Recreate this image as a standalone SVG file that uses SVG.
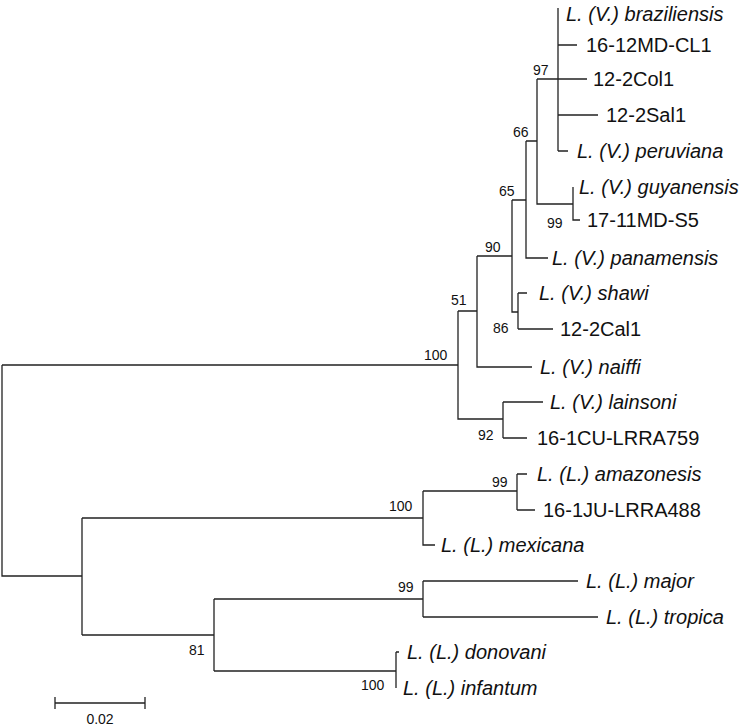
<svg xmlns="http://www.w3.org/2000/svg" width="740" height="727" viewBox="0 0 740 727">
<style>
.t{font-family:"Liberation Sans",Arial,sans-serif;font-size:20px;fill:#111}
.i{font-style:italic}
.b{font-family:"Liberation Sans",Arial,sans-serif;font-size:14px;fill:#111}
.e{stroke:#222;stroke-width:1.3;fill:none}
</style>
<rect width="740" height="727" fill="#fff"/>
<g id="connectors" class="e">
<path d="M558,8V151M558,45H577M537,79H587M558,115H598M558,151H568"/>
<path d="M537,79V204H573M573,187V220H580"/>
<path d="M526,141H537M526,141V258H548"/>
<path d="M512,200H526M512,200V312H518M518,293V329M518,293H527M518,329H553"/>
<path d="M477,256H512M477,256V367H532"/>
<path d="M458,311H477M458,311V419H503M503,402V438M503,402H543M503,438H527"/>
<path d="M2,365H458M2,365V576H82"/>
<path d="M82,518V635M82,518H423M423,491V545H435M423,491H517M517,474V510M517,474H527M517,510H535"/>
<path d="M82,635H214M214,599V671M214,599H423M423,581V617M423,581H578M423,617H598"/>
<path d="M214,671H396M396,652V688M396,652H399"/>
<path d="M55,703H145M55,697V709M145,697V709"/>
</g>
<g id="leaves">
<text class="t i" x="566" y="21">L. (V.) braziliensis</text>
<text class="t" x="586" y="52">16-12MD-CL1</text>
<text class="t" x="593" y="86">12-2Col1</text>
<text class="t" x="606" y="122">12-2Sal1</text>
<text class="t i" x="577" y="158">L. (V.) peruviana</text>
<text class="t i" x="579" y="194">L. (V.) guyanensis</text>
<text class="t" x="587" y="227">17-11MD-S5</text>
<text class="t i" x="552" y="265">L. (V.) panamensis</text>
<text class="t i" x="539" y="300">L. (V.) shawi</text>
<text class="t" x="560" y="336">12-2Cal1</text>
<text class="t i" x="540" y="374">L. (V.) naiffi</text>
<text class="t i" x="550" y="409">L. (V.) lainsoni</text>
<text class="t" x="537" y="445">16-1CU-LRRA759</text>
<text class="t i" x="537" y="481">L. (L.) amazonesis</text>
<text class="t" x="543" y="517">16-1JU-LRRA488</text>
<text class="t i" x="441" y="552">L. (L.) mexicana</text>
<text class="t i" x="586" y="588">L. (L.) major</text>
<text class="t i" x="606" y="624">L. (L.) tropica</text>
<text class="t i" x="407" y="659">L. (L.) donovani</text>
<text class="t i" x="403" y="695">L. (L.) infantum</text>
</g>
<g id="bootstrap">
<text class="b" x="533" y="75">97</text>
<text class="b" x="513" y="137">66</text>
<text class="b" x="499" y="196">65</text>
<text class="b" x="547" y="228">99</text>
<text class="b" x="485" y="252">90</text>
<text class="b" x="451" y="305">51</text>
<text class="b" x="493" y="333">86</text>
<text class="b" x="424" y="360">100</text>
<text class="b" x="478" y="440">92</text>
<text class="b" x="492" y="487">99</text>
<text class="b" x="389" y="511">100</text>
<text class="b" x="398" y="592">99</text>
<text class="b" x="189" y="655">81</text>
<text class="b" x="361" y="690">100</text>
<text class="b" x="100" y="724" text-anchor="middle" font-size="16">0.02</text>
</g>
</svg>
